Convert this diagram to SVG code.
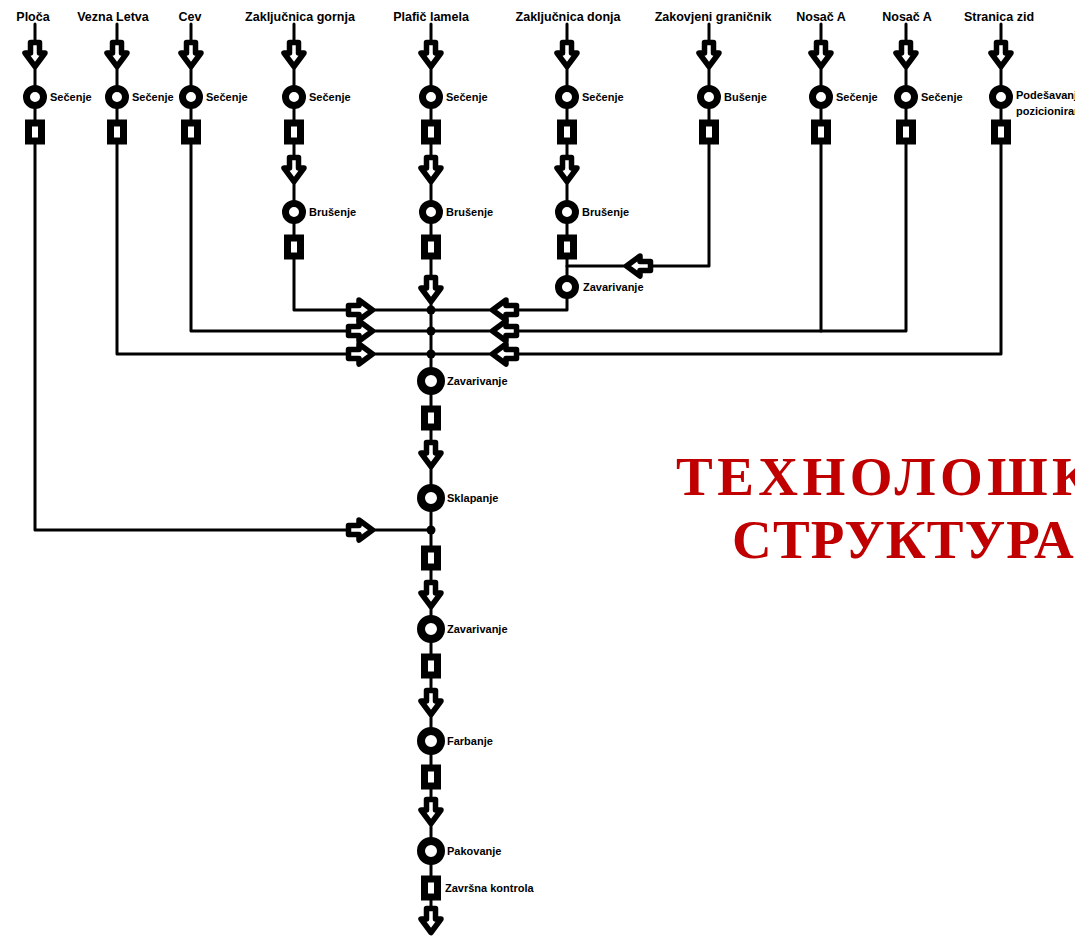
<svg xmlns="http://www.w3.org/2000/svg" width="1075" height="936" viewBox="0 0 1075 936">
<style>
.ln{fill:none;stroke:#000;stroke-width:3;stroke-linejoin:round;stroke-linecap:round}
.ar{fill:#fff;stroke:#000;stroke-width:5.5;stroke-linejoin:round}
.op{fill:#fff;stroke:#000;stroke-width:7}
.opm{fill:#fff;stroke:#000;stroke-width:8}
.sq{fill:#fff;stroke:#000;stroke-width:7}
.dot{fill:#000}
.lab{font-family:"Liberation Sans",Arial,sans-serif;font-weight:bold;font-size:12.5px;fill:#000;text-anchor:middle}
.pl{font-family:"Liberation Sans",Arial,sans-serif;font-weight:bold;font-size:11px;fill:#000}
.title{font-family:"Liberation Serif","Times New Roman",serif;font-weight:bold;font-size:55px;fill:#c00000}
</style>
<defs>
<polygon id="ad" class="ar" points="-4.5,-12.5 4.5,-12.5 4.5,-2 10,-2 0,11.5 -10,-2 -4.5,-2"/>
<polygon id="arr" class="ar" points="-12.5,-4.5 -2,-4.5 -2,-10 11.5,0 -2,10 -2,4.5 -12.5,4.5"/>
<polygon id="al" class="ar" points="12.5,-4.5 2,-4.5 2,-10 -11.5,0 2,10 2,4.5 12.5,4.5"/>
<circle id="op" class="op" r="8.5"/>
<circle id="opm" class="opm" r="10"/>
<rect id="sq" class="sq" x="-6.5" y="-9" width="13" height="18"/>
</defs>

<g id="connectors">
<path class="ln" d="M35,24 V530 H431"/>
<path class="ln" d="M117,24 V354 H431"/>
<path class="ln" d="M191,24 V331 H431"/>
<path class="ln" d="M294,24 V310 H431"/>
<path class="ln" d="M431,24 V920"/>
<path class="ln" d="M567,24 V310 H431"/>
<path class="ln" d="M709,24 V266 H567"/>
<path class="ln" d="M821,24 V331"/>
<path class="ln" d="M906,24 V331 H431"/>
<path class="ln" d="M1001,24 V354 H431"/>
<use href="#arr" x="361" y="310"/>
<use href="#arr" x="361" y="331"/>
<use href="#arr" x="361" y="354"/>
<use href="#arr" x="361" y="530"/>
<use href="#al" x="504" y="310"/>
<use href="#al" x="504" y="331"/>
<use href="#al" x="504" y="354"/>
<use href="#al" x="638" y="266"/>
<circle class="dot" cx="431" cy="310" r="4.5"/>
<circle class="dot" cx="431" cy="331" r="4.5"/>
<circle class="dot" cx="431" cy="354" r="4.5"/>
<circle class="dot" cx="431" cy="530" r="4.5"/>
</g>

<g id="col-ploca">
<text class="lab" x="33" y="21">Ploča</text>
<use href="#ad" x="35" y="55"/>
<use href="#op" x="35" y="97"/>
<text class="pl" x="50" y="101">Sečenje</text>
<use href="#sq" x="35" y="132"/>
</g>

<g id="col-vezna">
<text class="lab" x="113" y="21">Vezna Letva</text>
<use href="#ad" x="117" y="55"/>
<use href="#op" x="117" y="97"/>
<text class="pl" x="132" y="101">Sečenje</text>
<use href="#sq" x="117" y="132"/>
</g>

<g id="col-cev">
<text class="lab" x="190" y="21">Cev</text>
<use href="#ad" x="191" y="55"/>
<use href="#op" x="191" y="97"/>
<text class="pl" x="206" y="101">Sečenje</text>
<use href="#sq" x="191" y="132"/>
</g>

<g id="col-zakljucnica-gornja">
<text class="lab" x="300" y="21">Zaključnica gornja</text>
<use href="#ad" x="294" y="55"/>
<use href="#op" x="294" y="97"/>
<text class="pl" x="309" y="101">Sečenje</text>
<use href="#sq" x="294" y="132"/>
<use href="#ad" x="294" y="170"/>
<use href="#op" x="294" y="212"/>
<text class="pl" x="309" y="216">Brušenje</text>
<use href="#sq" x="294" y="247"/>
</g>

<g id="col-plafic-lamela">
<text class="lab" x="431" y="21">Plafič lamela</text>
<use href="#ad" x="431" y="55"/>
<use href="#op" x="431" y="97"/>
<text class="pl" x="446" y="101">Sečenje</text>
<use href="#sq" x="431" y="132"/>
<use href="#ad" x="431" y="170"/>
<use href="#op" x="431" y="212"/>
<text class="pl" x="446" y="216">Brušenje</text>
<use href="#sq" x="431" y="247"/>
<use href="#ad" x="431" y="290"/>
</g>

<g id="col-zakljucnica-donja">
<text class="lab" x="568" y="21">Zaključnica donja</text>
<use href="#ad" x="567" y="55"/>
<use href="#op" x="567" y="97"/>
<text class="pl" x="582" y="101">Sečenje</text>
<use href="#sq" x="567" y="132"/>
<use href="#ad" x="567" y="170"/>
<use href="#op" x="567" y="212"/>
<text class="pl" x="582" y="216">Brušenje</text>
<use href="#sq" x="567" y="247"/>
<use href="#op" x="567" y="287"/>
<text class="pl" x="583" y="291">Zavarivanje</text>
</g>

<g id="col-zakovjeni">
<text class="lab" x="713" y="21">Zakovjeni graničnik</text>
<use href="#ad" x="709" y="55"/>
<use href="#op" x="709" y="97"/>
<text class="pl" x="724" y="101">Bušenje</text>
<use href="#sq" x="709" y="132"/>
</g>

<g id="col-nosac-a1">
<text class="lab" x="821" y="21">Nosač A</text>
<use href="#ad" x="821" y="55"/>
<use href="#op" x="821" y="97"/>
<text class="pl" x="836" y="101">Sečenje</text>
<use href="#sq" x="821" y="132"/>
</g>

<g id="col-nosac-a2">
<text class="lab" x="907" y="21">Nosač A</text>
<use href="#ad" x="906" y="55"/>
<use href="#op" x="906" y="97"/>
<text class="pl" x="921" y="101">Sečenje</text>
<use href="#sq" x="906" y="132"/>
</g>

<g id="col-stranica">
<text class="lab" x="999" y="21">Stranica zid</text>
<use href="#ad" x="1001" y="55"/>
<use href="#op" x="1001" y="97"/>
<text class="pl" x="1016" y="99">Podešavanje</text>
<text class="pl" x="1016" y="115">pozicioniranje</text>
<use href="#sq" x="1001" y="132"/>
</g>

<g id="main-zavarivanje-1">
<use href="#opm" x="431" y="381"/>
<text class="pl" x="447" y="385">Zavarivanje</text>
<use href="#sq" x="431" y="418"/>
<use href="#ad" x="431" y="455"/>
</g>
<g id="main-sklapanje">
<use href="#opm" x="431" y="498"/>
<text class="pl" x="447" y="502">Sklapanje</text>
<use href="#sq" x="431" y="558"/>
<use href="#ad" x="431" y="595"/>
</g>
<g id="main-zavarivanje-2">
<use href="#opm" x="431" y="629"/>
<text class="pl" x="447" y="633">Zavarivanje</text>
<use href="#sq" x="431" y="666"/>
<use href="#ad" x="431" y="703"/>
</g>
<g id="main-farbanje">
<use href="#opm" x="431" y="741"/>
<text class="pl" x="447" y="745">Farbanje</text>
<use href="#sq" x="431" y="777"/>
<use href="#ad" x="431" y="812"/>
</g>
<g id="main-pakovanje">
<use href="#opm" x="431" y="851"/>
<text class="pl" x="447" y="855">Pakovanje</text>
</g>
<g id="main-zavrsna-kontrola">
<use href="#sq" x="431" y="888"/>
<text class="pl" x="445" y="892">Završna kontrola</text>
<use href="#ad" x="431" y="921"/>
</g>

<g id="title">
<text class="title" x="676" y="495" letter-spacing="4.5">ТЕХНОЛОШКА</text>
<text class="title" x="732" y="558" letter-spacing="1.2">СТРУКТУРА</text>
</g>
</svg>
